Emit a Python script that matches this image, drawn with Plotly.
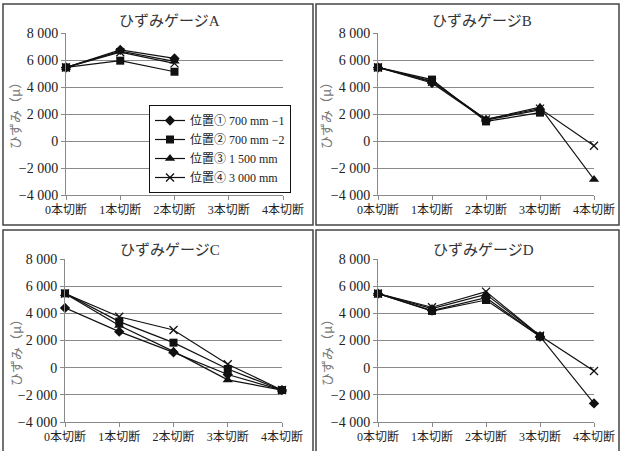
import plotly.graph_objects as go

# ---------------- data ----------------
categories = ["0本切断", "1本切断", "2本切断", "3本切断", "4本切断"]
series_names = ["位置① 700 mm −1", "位置② 700 mm −2", "位置③ 1 500 mm", "位置④ 3 000 mm"]
ytick_vals = [-4000, -2000, 0, 2000, 4000, 6000, 8000]
ytick_text = ["−4 000", "−2 000", "0", "2 000", "4 000", "6 000", "8 000"]
gauge_titles = ["ひずみゲージA", "ひずみゲージB", "ひずみゲージC", "ひずみゲージD"]
ylabel = "ひずみ（μ）"

gaugeA_pos1 = [5450, 6750, 6120, None, None]
gaugeA_pos2 = [5450, 5950, 5130, None, None]
gaugeA_pos3 = [5450, 6650, 5900, None, None]
gaugeA_pos4 = [5450, 6580, 5750, None, None]

gaugeB_pos1 = [5450, 4300, 1550, 2300, None]
gaugeB_pos2 = [5450, 4550, 1450, 2100, None]
gaugeB_pos3 = [5450, 4450, 1600, 2500, -2850]
gaugeB_pos4 = [5450, 4380, 1600, 2400, -350]

gaugeC_pos1 = [4400, 2650, 1130, -500, -1650]
gaugeC_pos2 = [5470, 3390, 1840, -100, -1650]
gaugeC_pos3 = [5450, 3100, 1200, -900, -1650]
gaugeC_pos4 = [5450, 3750, 2770, 250, -1650]

gaugeD_pos1 = [5450, 4200, 5150, 2300, -2630]
gaugeD_pos2 = [5450, 4170, 4980, 2300, None]
gaugeD_pos3 = [5450, 4350, 5400, 2350, None]
gaugeD_pos4 = [5450, 4450, 5600, 2350, -250]

gauges = [
    [gaugeA_pos1, gaugeA_pos2, gaugeA_pos3, gaugeA_pos4],
    [gaugeB_pos1, gaugeB_pos2, gaugeB_pos3, gaugeB_pos4],
    [gaugeC_pos1, gaugeC_pos2, gaugeC_pos3, gaugeC_pos4],
    [gaugeD_pos1, gaugeD_pos2, gaugeD_pos3, gaugeD_pos4],
]

# ---------------- layout helpers ----------------
W, H = 622, 451
FONT = "Liberation Serif, Noto Sans CJK JP, serif"
CJK = "Noto Sans CJK JP"


def px_x(v):
    return v / W


def px_y(v):
    return 1 - v / H


# plot areas in pixels: (x_left, x_right, y_top, y_bottom)
areas = [
    (66, 283, 33, 195),
    (378, 594, 33, 195),
    (65, 282, 259, 422),
    (378, 594, 259, 422),
]
title_pos = [(169, 21), (482, 21), (170, 250), (483, 250)]
ylabel_pos = [(15, 113), (326, 113), (15, 350), (326, 350)]

symbols = ["diamond", "square", "triangle-up", "x-thin"]
sizes = [8, 8, 9, 8]

fig = go.Figure()

for gi, series_list in enumerate(gauges):
    xa = "x" if gi == 0 else f"x{gi + 1}"
    ya = "y" if gi == 0 else f"y{gi + 1}"
    for si, vals in enumerate(series_list):
        marker = dict(symbol=symbols[si], size=sizes[si], color="#111111")
        if symbols[si] == "x-thin":
            marker["line"] = dict(width=1.3, color="#111111")
        fig.add_trace(go.Scatter(
            x=categories, y=vals, mode="lines+markers",
            name=series_names[si],
            line=dict(color="#111111", width=1.2),
            marker=marker,
            xaxis=xa, yaxis=ya,
            showlegend=(gi == 0),
            connectgaps=False,
            cliponaxis=False,
        ))

layout = dict(
    width=W, height=H,
    margin=dict(l=0, r=0, t=0, b=0, pad=0, autoexpand=False),
    paper_bgcolor="white", plot_bgcolor="white",
    font=dict(family=FONT, size=12, color="#222222"),
    legend=dict(
        x=px_x(149), y=px_y(105), xanchor="left", yanchor="top",
        bordercolor="#111111", borderwidth=1, bgcolor="white",
        font=dict(family=FONT, size=12, color="#222222"),
        tracegroupgap=0, itemwidth=30,
    ),
    annotations=[], shapes=[],
)

for gi, (xl, xr, yt, yb) in enumerate(areas):
    sfx = "" if gi == 0 else str(gi + 1)
    layout["xaxis" + sfx] = dict(
        domain=[px_x(xl), px_x(xr)],
        anchor="y" + sfx,
        type="category",
        categoryorder="array", categoryarray=categories,
        range=[0, 4],
        automargin=False,
        showgrid=False, zeroline=False,
        showline=True, linecolor="#8a8a8a", linewidth=1,
        ticks="outside", ticklen=4, tickcolor="#8a8a8a",
        tickfont=dict(family=FONT, size=12, color="#222222"),
        fixedrange=True,
    )
    layout["yaxis" + sfx] = dict(
        domain=[px_y(yb), px_y(yt)],
        anchor="x" + sfx,
        range=[-4000, 8000],
        tickvals=ytick_vals, ticktext=ytick_text,
        automargin=False,
        showgrid=True, gridcolor="#8a8a8a", gridwidth=1,
        zeroline=False,
        showline=True, linecolor="#8a8a8a", linewidth=1,
        ticks="outside", ticklen=4, tickcolor="#8a8a8a",
        tickfont=dict(family=FONT, size=14, color="#222222"),
        fixedrange=True,
    )
    tx, ty = title_pos[gi]
    layout["annotations"].append(dict(
        text=gauge_titles[gi], x=px_x(tx), y=px_y(ty), xref="paper", yref="paper",
        xanchor="center", yanchor="middle", showarrow=False,
        font=dict(family=FONT, size=15, color="#333333"),
    ))
    lx, ly = ylabel_pos[gi]
    layout["annotations"].append(dict(
        text=ylabel, x=px_x(lx), y=px_y(ly), xref="paper", yref="paper",
        xanchor="center", yanchor="middle", showarrow=False, textangle=-90,
        font=dict(family=CJK, size=13, color="#777777"),
    ))

# panel borders
panels = [(3, 313, 4, 225), (316, 619, 4, 225), (3, 313, 230, 455), (316, 619, 230, 455)]
for (x0, x1, y0, y1) in panels:
    layout["shapes"].append(dict(
        type="rect", xref="paper", yref="paper",
        x0=px_x(x0), x1=px_x(x1), y0=px_y(y1), y1=px_y(y0),
        line=dict(color="#444444", width=1.5), fillcolor="rgba(0,0,0,0)",
        layer="below",
    ))

fig.update_layout(**layout)
fig.write_html(
    "out.html",
    config={"displayModeBar": False},
    post_script="document.body.style.margin='0px';document.documentElement.style.overflow='hidden';",
)
